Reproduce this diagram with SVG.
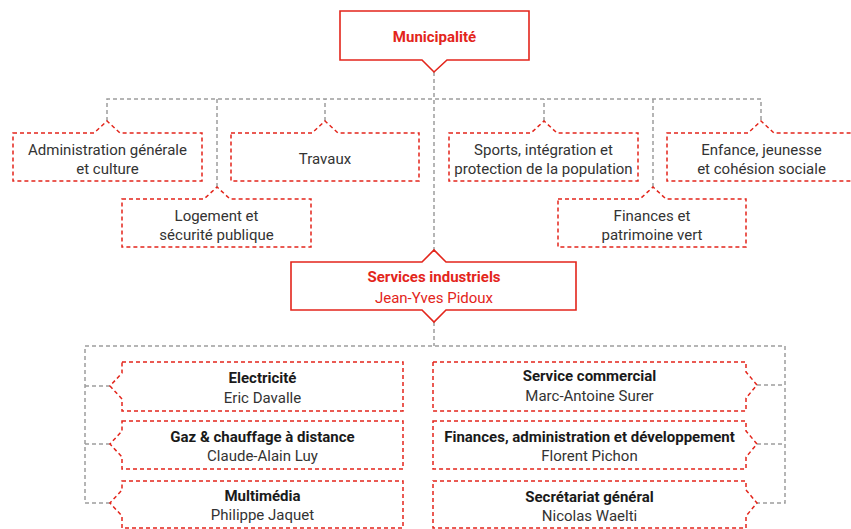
<svg xmlns="http://www.w3.org/2000/svg" width="851" height="529" viewBox="0 0 851 529">
<style>
.bg{fill:#ffffff}
.conn{fill:none;stroke:#9d9d9d;stroke-width:1.5;stroke-dasharray:4 3}
.dnode{fill:#ffffff;stroke:#e3251b;stroke-width:1.5;stroke-dasharray:4 3}
.snode{fill:#ffffff;stroke:#e3251b;stroke-width:1.6}
text{font-family:Roboto,"Noto Sans","Liberation Sans",sans-serif;font-size:15px;text-anchor:middle}
.t{fill:#333333}
.b{fill:#1a1a1a;font-weight:700}
.r{fill:#e3251b;font-weight:700}
.rn{fill:#e3251b}
</style>
<rect class="bg" x="0" y="0" width="851" height="529"/>
<g id="connectors">
<path class="conn" d="M434,72 V250"/>
<path class="conn" d="M107,121 V99 H761 V121"/>
<path class="conn" d="M217,187 V99"/>
<path class="conn" d="M325,121 V99"/>
<path class="conn" d="M544,121 V99"/>
<path class="conn" d="M653,187 V99"/>
<path class="conn" d="M434,322 V346"/>
<path class="conn" d="M110,503 H85 V346 H785 V503 H757"/>
<path class="conn" d="M110,386 H85"/>
<path class="conn" d="M110,444 H85"/>
<path class="conn" d="M757,385 H785"/>
<path class="conn" d="M757,444 H785"/>
</g>
<g id="municipalite">
<path class="snode" d="M340,11 H529 V60 H447 L434,72 L422,60 H340 Z"/>
<text class="r" x="434.5" y="42">Municipalité</text>
</g>
<g id="administration">
<path class="dnode" d="M13,133 H94 L107,121 L120,133 H202 V181 H13 Z"/>
<text class="t" x="107.5" y="155">Administration générale</text>
<text class="t" x="107.5" y="174">et culture</text>
</g>
<g id="travaux">
<path class="dnode" d="M231,133 H312 L325,121 L338,133 H419 V181 H231 Z"/>
<text class="t" x="325" y="164">Travaux</text>
</g>
<g id="logement">
<path class="dnode" d="M122,199 H204 L217,187 L230,199 H311 V247 H122 Z"/>
<text class="t" x="216.5" y="221">Logement et</text>
<text class="t" x="216.5" y="240">sécurité publique</text>
</g>
<g id="sports">
<path class="dnode" d="M449,133 H531 L544,121 L557,133 H638 V181 H449 Z"/>
<text class="t" x="543.5" y="155">Sports, intégration et</text>
<text class="t" x="543.5" y="174">protection de la population</text>
</g>
<g id="enfance">
<path class="dnode" d="M667,133 H748 L761,121 L774,133 H856 V181 H667 Z"/>
<text class="t" x="761.5" y="155">Enfance, jeunesse</text>
<text class="t" x="761.5" y="174">et cohésion sociale</text>
</g>
<g id="finances-patrimoine">
<path class="dnode" d="M558,199 H640 L653,187 L666,199 H746 V247 H558 Z"/>
<text class="t" x="652" y="221">Finances et</text>
<text class="t" x="652" y="240">patrimoine vert</text>
</g>
<g id="services-industriels">
<path class="snode" d="M291,262 H422 L434,250 L446,262 H576 V310 H446 L434,322 L422,310 H291 Z"/>
<text class="r" x="434" y="282">Services industriels</text>
<text class="rn" x="434" y="303">Jean-Yves Pidoux</text>
</g>
<g id="electricite">
<path class="dnode" d="M122,362 H403 V411 H122 V399 L110,386 L122,373 Z"/>
<text class="b" x="262.5" y="383">Electricité</text>
<text class="t" x="262.5" y="403">Eric Davalle</text>
</g>
<g id="gaz">
<path class="dnode" d="M122,421 H403 V469 H122 V457 L110,444 L122,431 Z"/>
<text class="b" x="262.5" y="442">Gaz &amp; chauffage à distance</text>
<text class="t" x="262.5" y="461">Claude-Alain Luy</text>
</g>
<g id="multimedia">
<path class="dnode" d="M122,481 H403 V528 H122 V516 L110,503 L122,490 Z"/>
<text class="b" x="262.5" y="501">Multimédia</text>
<text class="t" x="262.5" y="520">Philippe Jaquet</text>
</g>
<g id="service-commercial">
<path class="dnode" d="M433,362 H746 V372 L757,385 L746,398 V411 H433 Z"/>
<text class="b" x="589.5" y="381">Service commercial</text>
<text class="t" x="589.5" y="401">Marc-Antoine Surer</text>
</g>
<g id="finances-administration">
<path class="dnode" d="M433,421 H746 V431 L757,444 L746,457 V469 H433 Z"/>
<text class="b" x="589.5" y="442">Finances, administration et développement</text>
<text class="t" x="589.5" y="461">Florent Pichon</text>
</g>
<g id="secretariat">
<path class="dnode" d="M433,481 H746 V490 L757,503 L746,516 V528 H433 Z"/>
<text class="b" x="589.5" y="502">Secrétariat général</text>
<text class="t" x="589.5" y="521">Nicolas Waelti</text>
</g>
</svg>
